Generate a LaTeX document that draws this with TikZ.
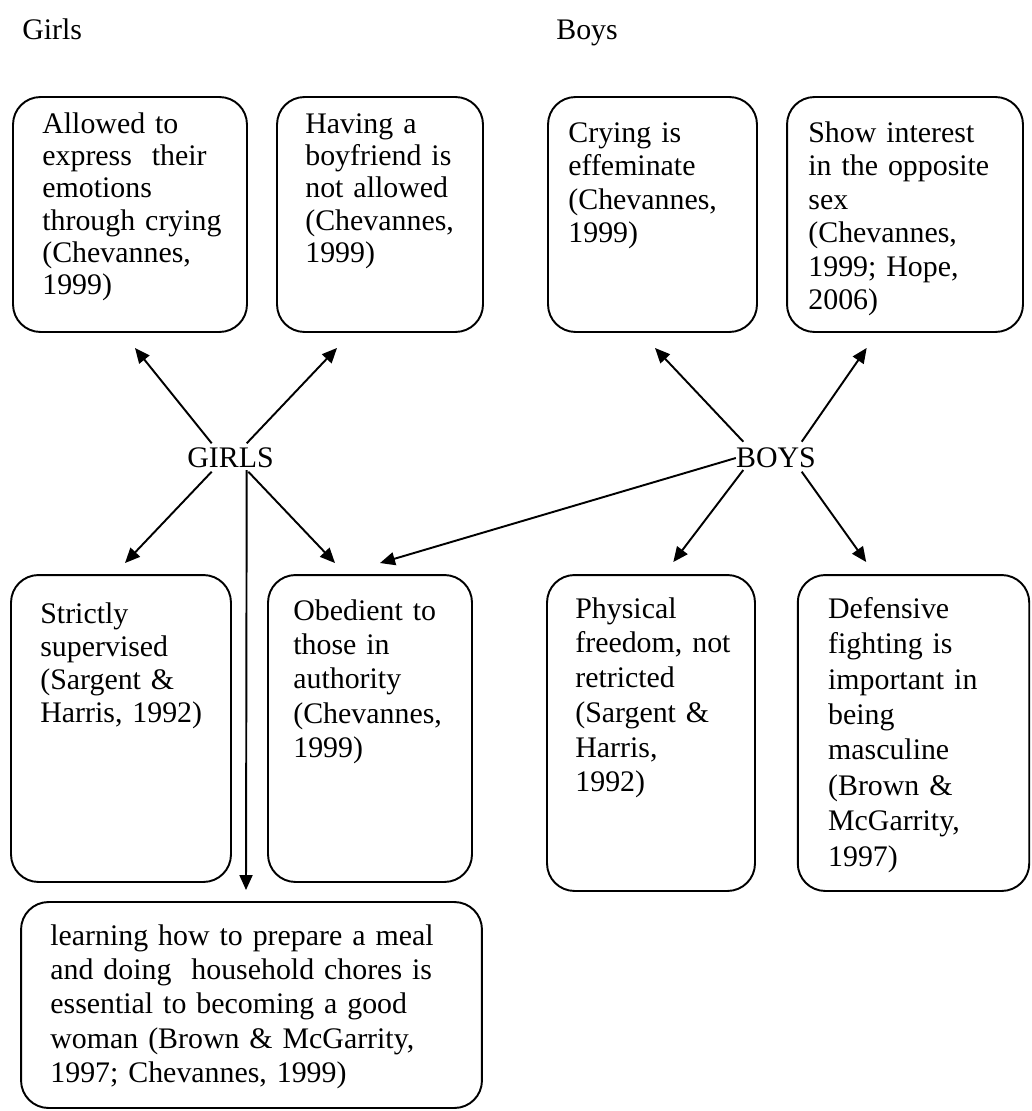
\documentclass[tikz,border=0pt]{standalone}
\usepackage{fontspec}
\setmainfont{Liberation Serif}
\usetikzlibrary{arrows.meta}

\begin{document}
\begin{tikzpicture}[x=0.02cm, y=-0.02cm,
	box/.style={draw, line width=1.1pt, rounded corners=0.55cm, inner sep=0pt, outer sep=0pt},
	txt/.style 2 args={anchor=base west, inner sep=0pt, align=left, text width=#1, font=\fontsize{17pt}{#2}\selectfont},
	lbl/.style={inner sep=0pt, font=\fontsize{17pt}{19pt}\selectfont},
	arr/.style={line width=1.1pt, -{Triangle[length=0.3cm, width=0.26cm]}}]
	\useasboundingbox (0, 0) rectangle (1031, 1111);

	% headings
	\node[lbl, anchor=base west] (girlshd) at (22, 40) {Girls};
	\node[lbl, anchor=base west] (boyshd) at (556, 40) {Boys};

	% top row
	\node[box, minimum width=4.68cm, minimum height=4.7cm] (allowed) at (130, 214.5) {};
	\node[box, minimum width=4.12cm, minimum height=4.7cm] (having) at (380, 214.5) {};
	\node[box, minimum width=4.18cm, minimum height=4.7cm] (crying) at (652.5, 214.5) {};
	\node[box, minimum width=4.72cm, minimum height=4.7cm] (interest) at (905, 214.5) {};
	\node[txt={3.9cm}{18.4pt}] (allowed-t) at ([shift={(29, 36)}]allowed.north west)
		{Allowed to\\ express\ \ their\\ emotions\\ through crying\\ (Chevannes,\\ 1999)};
	\node[txt={3.4cm}{18.4pt}] (having-t) at ([shift={(28, 36)}]having.north west)
		{Having a\\ boyfriend is\\ not allowed\\ (Chevannes,\\ 1999)};
	\node[txt={3.6cm}{19.1pt}] (crying-t) at ([shift={(20, 45)}]crying.north west)
		{Crying is\\ effeminate\\ (Chevannes,\\ 1999)};
	\node[txt={4.1cm}{19.1pt}] (interest-t) at ([shift={(21, 45)}]interest.north west)
		{Show interest\\ in the opposite\\ sex\\ (Chevannes,\\ 1999; Hope,\\ 2006)};

	% centre labels
	\node[lbl] (girls) at (230.5, 458) {GIRLS};
	\node[lbl] (boys) at (776, 458) {BOYS};

	% bottom row
	\node[box, minimum width=4.4cm, minimum height=6.14cm] (strictly) at (121, 728.5) {};
	\node[box, minimum width=4.08cm, minimum height=6.14cm] (obedient) at (370, 728.5) {};
	\node[box, minimum width=4.16cm, minimum height=6.32cm] (physical) at (651, 733) {};
	\node[box, minimum width=4.63cm, minimum height=6.32cm] (defensive) at (913.5, 733) {};
	\node[box, minimum width=9.22cm, minimum height=4.12cm] (learning) at (251.5, 1005) {};
	\node[txt={3.6cm}{18.9pt}] (strictly-t) at ([shift={(29, 48)}]strictly.north west)
		{Strictly\\ supervised\\ (Sargent \&\\ Harris, 1992)};
	\node[txt={3.4cm}{19.6pt}] (obedient-t) at ([shift={(25, 45)}]obedient.north west)
		{Obedient to\\ those in\\ authority\\ (Chevannes,\\ 1999)};
	\node[txt={3.4cm}{19.8pt}] (physical-t) at ([shift={(28, 43)}]physical.north west)
		{Physical\\ freedom, not\\ retricted\\ (Sargent \&\\ Harris,\\ 1992)};
	\node[txt={3.8cm}{20.2pt}] (defensive-t) at ([shift={(30, 43)}]defensive.north west)
		{Defensive\\ fighting is\\ important in\\ being\\ masculine\\ (Brown \&\\ McGarrity,\\ 1997)};
	\node[txt={8.4cm}{19.6pt}] (learning-t) at ([shift={(29, 43)}]learning.north west)
		{learning how to prepare a meal\\ and doing\ \ household chores is\\ essential to becoming a good\\ woman (Brown \& McGarrity,\\ 1997; Chevannes, 1999)};

	% arrows from GIRLS
	\draw[arr] ([shift={(-18.8, -14.7)}]girls.center) -- ([shift={(5, 16)}]allowed.south);
	\draw[arr] ([shift={(16.2, -14.7)}]girls.center) -- ([shift={(-43, 16)}]having.south);
	\draw[arr] ([shift={(-18.8, 13.7)}]girls.center) -- ([shift={(4, -12)}]strictly.north);
	\draw[arr] ([shift={(17.8, 13.7)}]girls.center) -- ([shift={(-35, -12)}]obedient.north);
	\draw[arr] ([shift={(16.2, 12)}]girls.center) -- ([shift={(-5.5, -12)}]learning.north);

	% arrows from BOYS
	\draw[arr] (boys.west) -- ([shift={(10, -12)}]obedient.north);
	\draw[arr] ([shift={(-32.7, -16.3)}]boys.center) -- ([shift={(2.5, 16)}]crying.south);
	\draw[arr] ([shift={(25.7, -16.3)}]boys.center) -- ([shift={(-38.3, 16)}]interest.south);
	\draw[arr] ([shift={(-32.7, 12)}]boys.center) -- ([shift={(22.3, -13)}]physical.north);
	\draw[arr] ([shift={(25.7, 13.7)}]boys.center) -- ([shift={(-47.3, -13)}]defensive.north);
\end{tikzpicture}
\end{document}
